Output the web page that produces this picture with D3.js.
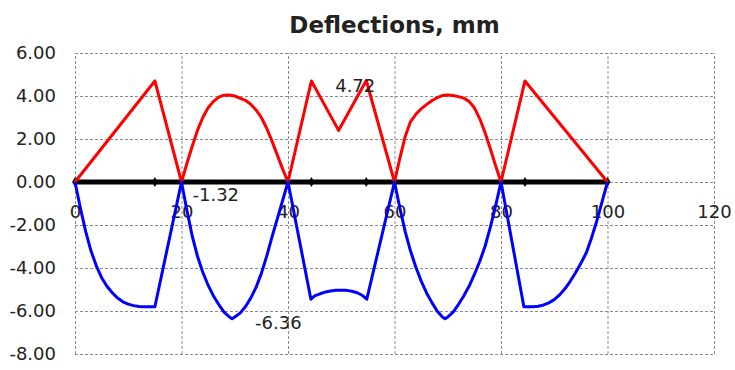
<!DOCTYPE html>
<html>
<head>
<meta charset="utf-8">
<script src="https://cdn.jsdelivr.net/npm/d3@7"></script>
<style>
	body { margin: 0; background: #fff; }
	text { font-family: 'DejaVu Sans', sans-serif; fill: #222; }
</style>
</head>
<body>
<div id="chart"></div>
<script>
// beam positions (m) and deflection envelopes (mm)
var maxX = [0, 15, 20, 21, 22, 23, 24, 25, 26, 27, 28, 29, 30, 32, 33, 34, 35, 36, 37, 38, 39, 40,
	44.4, 49.5, 54.7, 60, 61, 62, 63, 64, 65, 66, 67, 68, 69, 70, 71, 72, 73, 74, 75, 76, 77, 78, 79, 80, 84.5, 100];
var maxY = [0, 4.70, 0, 0.85, 1.65, 2.4, 3.0, 3.45, 3.75, 3.95, 4.04, 4.05, 4.0, 3.8, 3.62, 3.35, 3.0, 2.5, 1.9, 1.25, 0.6, 0,
	4.70, 2.40, 4.72, 0, 1.1, 2.1, 2.8, 3.15, 3.4, 3.6, 3.78, 3.92, 4.02, 4.05, 4.02, 3.97, 3.9, 3.75, 3.45, 2.95, 2.3, 1.55, 0.75, 0, 4.70, 0];

var minX = [0, 1, 2, 3, 4, 5, 6, 7, 8, 9, 10, 11, 12, 13, 14, 15, 20,
	21, 22, 23, 24, 25, 26, 27, 28, 29, 29.5, 30, 31, 32, 33, 34, 35, 36, 37, 38, 39, 40,
	44.3, 45, 46, 47, 48, 49, 50, 51, 52, 53, 54, 54.8, 60,
	61, 62, 63, 64, 65, 66, 67, 68, 69, 69.5, 70, 71, 72, 73, 74, 75, 76, 77, 78, 79, 80,
	84.3, 86, 87, 88, 89, 90, 91, 92, 93, 94, 95, 96, 97, 98, 99, 100];
var minY = [0, -1.2, -2.3, -3.2, -3.9, -4.45, -4.85, -5.15, -5.4, -5.57, -5.68, -5.75, -5.79, -5.8, -5.8, -5.8, 0,
	-1.3, -2.5, -3.45, -4.2, -4.8, -5.3, -5.7, -6.05, -6.28, -6.36, -6.28, -6.1, -5.8, -5.4, -4.9, -4.25, -3.45, -2.55, -1.7, -0.85, 0,
	-5.45, -5.3, -5.2, -5.12, -5.07, -5.04, -5.03, -5.04, -5.08, -5.15, -5.28, -5.45, 0,
	-1.2, -2.3, -3.2, -3.95, -4.6, -5.15, -5.6, -6.0, -6.28, -6.36, -6.28, -6.05, -5.7, -5.3, -4.85, -4.3, -3.7, -3.0, -2.1, -1.1, 0,
	-5.8, -5.8, -5.78, -5.72, -5.62, -5.47, -5.25, -4.97, -4.62, -4.22, -3.78, -3.3, -2.6, -1.8, -0.9, 0];

var beamX = [0, 100];
var loadX = [0, 15, 44.4, 54.7, 84.5, 100];

var xTicks = [0, 20, 40, 60, 80, 100, 120];
var yTicks = [-8, -6, -4, -2, 0, 2, 4, 6];

var labels = [
	{ x: 54.7, y: 4.72, text: '4.72', dx: 9, dy: 11, anchor: 'end' },
	{ x: 20, y: -1.32, text: '-1.32', dx: 11, dy: -9, anchor: 'start' },
	{ x: 29.5, y: -6.36, text: '-6.36', dx: 23, dy: 10, anchor: 'start' }
];

var W = 735, H = 370;
var margin = { left: 75, right: 21, top: 53, bottom: 16 };

var svg = d3.select('#chart').append('svg').attr('width', W).attr('height', H);

var x = d3.scaleLinear().domain([0, 120]).range([margin.left, W - margin.right]);
var y = d3.scaleLinear().domain([-8, 6]).range([H - margin.bottom, margin.top]);

// title
svg.append('text')
	.attr('x', (x(0) + x(120)) / 2)
	.attr('y', 33)
	.attr('text-anchor', 'middle')
	.style('font-size', '23px')
	.style('font-weight', 'bold')
	.text('Deflections, mm');

// grid + y labels
var yAxis = svg.append('g')
	.attr('transform', 'translate(' + x(0) + ',0)')
	.call(d3.axisLeft(y).tickValues(yTicks).tickSize(-(x(120) - x(0))).tickPadding(19)
		.tickFormat(function(d) { return d.toFixed(2); }));
yAxis.select('.domain').remove();

var xGrid = svg.append('g')
	.attr('transform', 'translate(0,' + y(-8) + ')')
	.call(d3.axisBottom(x).tickValues(xTicks).tickSize(-(y(-8) - y(6))).tickFormat(''));
xGrid.select('.domain').remove();

svg.selectAll('.tick line')
	.attr('stroke', '#8a8a8a')
	.attr('stroke-width', 1)
	.attr('stroke-dasharray', '3,2');
yAxis.selectAll('text').style('font-size', '18px').attr('fill', '#222');

// x labels sit under the zero line
var xAxis = svg.append('g')
	.attr('transform', 'translate(0,' + y(0) + ')')
	.call(d3.axisBottom(x).tickValues(xTicks).tickSize(0).tickPadding(23));
xAxis.select('.domain').remove();
xAxis.selectAll('text').style('font-size', '18px').attr('fill', '#222');

// beam
svg.append('line')
	.attr('x1', x(beamX[0])).attr('x2', x(beamX[1]))
	.attr('y1', y(0)).attr('y2', y(0))
	.attr('stroke', '#000').attr('stroke-width', 5);

svg.selectAll('.load')
	.data(loadX)
	.enter()
	.append('path')
	.attr('class', 'load')
	.attr('transform', function(d) { return 'translate(' + x(d) + ',' + y(0) + ')'; })
	.attr('d', d3.symbol().type(d3.symbolDiamond).size(30))
	.attr('fill', '#000');

var line = d3.line()
	.x(function(d) { return x(d[0]); })
	.y(function(d) { return y(d[1]); });

svg.append('path')
	.datum(d3.zip(maxX, maxY))
	.attr('d', line)
	.attr('fill', 'none')
	.attr('stroke', '#ff0000')
	.attr('stroke-width', 3)
	.attr('stroke-linejoin', 'round');

svg.append('path')
	.datum(d3.zip(minX, minY))
	.attr('d', line)
	.attr('fill', 'none')
	.attr('stroke', '#0000ff')
	.attr('stroke-width', 3)
	.attr('stroke-linejoin', 'round');

// value labels
svg.selectAll('.vlabel')
	.data(labels)
	.enter()
	.append('text')
	.attr('class', 'vlabel')
	.attr('x', function(d) { return x(d.x) + d.dx; })
	.attr('y', function(d) { return y(d.y) + d.dy; })
	.attr('text-anchor', function(d) { return d.anchor; })
	.style('font-size', '18px')
	.text(function(d) { return d.text; });
</script>
</body>
</html>
